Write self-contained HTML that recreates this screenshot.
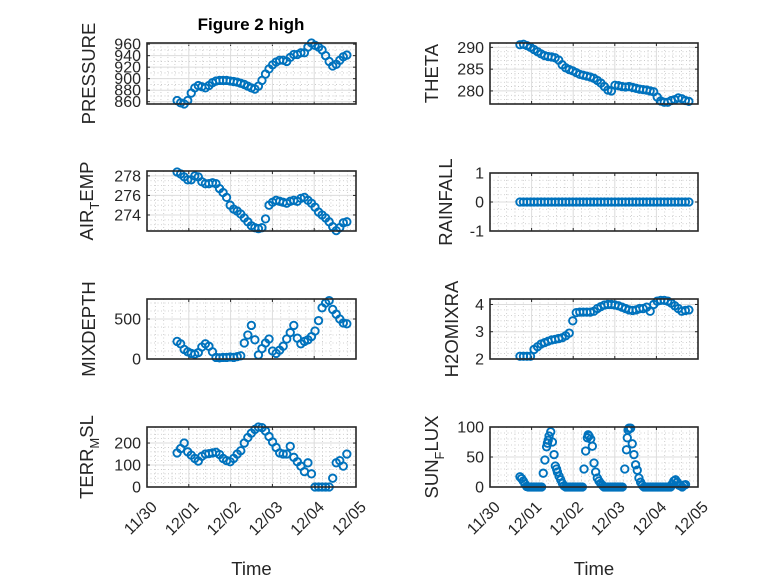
<!DOCTYPE html>
<html><head><meta charset="utf-8"><style>
html,body{margin:0;padding:0;background:#fff;}
svg{display:block;font-family:"Liberation Sans",sans-serif;}
</style></head><body>
<svg id="fig" width="778" height="583" viewBox="0 0 778 583">
<rect width="778" height="583" fill="#fff"/>
<text x="251" y="30" text-anchor="middle" font-size="17" font-weight="bold" fill="#000">Figure 2 high</text>
</svg>
<script>
// ---- shared time base (days since 11/30 00:00) ----
const xTickLabels = ["11/30","12/01","12/02","12/03","12/04","12/05"];
const tStart = 0.72, tStep = 0.0846;

const pressureValues = [862,858,856,862,875,884,888,886,884,888,893,896,897,897,897,896,895,894,892,890,887,884,882,887,897,908,917,924,929,932,932,930,937,942,942,945,945,955,962,958,955,950,940,930,922,925,932,938,941];
const thetaValues = [290.6,290.7,290.4,290.0,289.5,289.0,288.5,288.1,287.9,287.8,287.6,287.1,286.0,285.3,284.9,284.6,284.2,283.8,283.6,283.4,283.2,282.9,282.4,281.8,281.0,280.2,280.0,281.3,281.2,281.0,280.9,281.0,280.8,280.6,280.4,280.3,280.2,280.0,279.8,278.6,277.7,277.4,277.4,277.8,278.0,278.4,278.2,277.8,277.6];
const airTempValues = [278.4,278.2,277.9,277.6,277.6,278.0,277.9,277.4,277.2,277.2,277.3,277.2,276.7,276.3,275.8,275.0,274.6,274.4,274.1,273.7,273.3,272.9,272.7,272.6,272.7,273.6,275.0,275.3,275.5,275.4,275.3,275.2,275.4,275.5,275.4,275.7,275.8,275.5,275.2,274.8,274.3,274.0,273.7,273.3,272.8,272.4,272.7,273.2,273.3];
const rainfallValues = [0,0,0,0,0,0,0,0,0,0,0,0,0,0,0,0,0,0,0,0,0,0,0,0,0,0,0,0,0,0,0,0,0,0,0,0,0,0,0,0,0,0,0,0,0,0,0,0,0];
const mixDepthValues = [220,190,120,90,70,60,80,150,190,160,90,20,15,20,20,25,20,30,40,200,300,420,240,50,130,200,250,100,70,110,160,250,330,420,260,190,220,240,280,350,480,640,700,730,620,560,500,450,440];
const h2oValues = [2.1,2.1,2.1,2.1,2.35,2.45,2.55,2.6,2.65,2.7,2.72,2.75,2.78,2.85,2.95,3.4,3.7,3.72,3.72,3.72,3.72,3.75,3.85,3.92,3.98,4.0,4.0,3.98,3.95,3.9,3.85,3.8,3.78,3.8,3.85,3.85,3.9,3.75,4.0,4.12,4.15,4.15,4.12,4.05,3.95,3.85,3.75,3.78,3.8];
const terrValues = [155,175,200,160,145,130,118,140,150,152,155,158,148,130,120,115,130,150,165,200,225,245,262,273,270,255,230,205,180,155,150,150,185,135,115,95,70,110,60,0,0,0,0,0,40,110,120,95,150];
const sunDays = [0.72,0.76,0.80,0.84,0.88,0.92,0.96,1.00,1.04,1.08,1.12,1.16,1.20,1.24,1.28,1.32,1.36,1.38,1.40,1.42,1.46,1.50,1.54,1.57,1.60,1.62,1.66,1.70,1.74,1.78,1.82,1.86,1.90,1.94,1.98,2.02,2.06,2.10,2.14,2.18,2.22,2.26,2.30,2.34,2.36,2.38,2.42,2.46,2.50,2.54,2.58,2.62,2.66,2.70,2.74,2.78,2.82,2.86,2.90,2.94,2.98,3.02,3.06,3.10,3.14,3.18,3.24,3.28,3.30,3.32,3.34,3.38,3.42,3.46,3.50,3.54,3.58,3.62,3.66,3.70,3.74,3.78,3.82,3.86,3.90,3.94,3.98,4.02,4.06,4.10,4.14,4.18,4.22,4.26,4.30,4.34,4.38,4.42,4.46,4.50,4.54,4.58,4.62,4.66,4.70];
const sunValues = [17,14,10,5,1,0,0,0,0,0,0,0,0,0,23,45,67,73,78,85,92,75,54,35,30,25,18,12,6,2,0,0,0,0,0,0,0,0,0,0,0,30,60,82,87,85,80,68,40,25,15,10,6,3,0,0,0,0,0,0,0,0,0,0,0,0,30,62,82,95,98,98,72,54,37,28,15,8,3,0,0,0,0,0,0,0,0,0,0,0,0,0,0,0,0,0,5,10,12,8,3,2,0,3,4];

const pressureTicks = [860,880,900,920,940,960];
const thetaTicks = [280,285,290];
const airTempTicks = [274,276,278];
const rainfallTicks = [-1,0,1];
const mixDepthTicks = [0,500];
const h2oTicks = [2,3,4];
const terrTicks = [0,100,200];
const sunTicks = [0,50,100];

const NS = "http://www.w3.org/2000/svg";
const svg = document.getElementById("fig");
function mk(tag, attrs, parent){const e=document.createElementNS(NS,tag);for(const k in attrs)e.setAttribute(k,attrs[k]);(parent||svg).appendChild(e);return e;}
function seqDays(n){const a=[];for(let i=0;i<n;i++)a.push(tStart+i*tStep);return a;}

function panel(o){
  const g = mk("g",{});
  
  
  const L=o.x, R=o.x+o.w, T=o.y, B=o.y+o.h;
  const sx = d => L + d/5*o.w;
  const sy = v => B - (v-o.ymin)/(o.ymax-o.ymin)*o.h;
  for(let d=0; d<=5.0001; d+=1/o.minorX){ if(Math.abs(d-Math.round(d))<1e-6) continue;
    const l=mk("line",{x1:sx(d),x2:sx(d),y1:T,y2:B,stroke:"#c4c4c4","stroke-width":0.8,"stroke-dasharray":"1,2.5"},g);
    
    
  }
  for(let v=Math.ceil(o.ymin/o.minorY)*o.minorY; v<=o.ymax+1e-9; v+=o.minorY){
    if(o.ticks.some(t=>Math.abs(t-v)<1e-6)) continue;
    const l=mk("line",{x1:L,x2:R,y1:sy(v),y2:sy(v),stroke:"#c4c4c4","stroke-width":0.8,"stroke-dasharray":"1,2.5"},g);
    
    
  }
  for(let d=0; d<=5; d++){
    const l=mk("line",{x1:sx(d),x2:sx(d),y1:T,y2:B,stroke:"#dcdcdc","stroke-width":1},g);
    
    
    mk("line",{x1:sx(d),x2:sx(d),y1:B,y2:B-3,stroke:"#262626","stroke-width":1},g);
    mk("line",{x1:sx(d),x2:sx(d),y1:T,y2:T+3,stroke:"#262626","stroke-width":1},g);
    if(o.bottom){
      const t=mk("text",{transform:`translate(${sx(d)+11},${B+21}) rotate(-45)`,"text-anchor":"end","font-size":16,fill:"#262626"},g);
      t.textContent=xTickLabels[d];
      
      
    }
  }
  o.ticks.forEach(v=>{
    const l=mk("line",{x1:L,x2:R,y1:sy(v),y2:sy(v),stroke:"#dcdcdc","stroke-width":1},g);
    
    
    mk("line",{x1:L,x2:L+3,y1:sy(v),y2:sy(v),stroke:"#262626","stroke-width":1},g);
    mk("line",{x1:R,x2:R-3,y1:sy(v),y2:sy(v),stroke:"#262626","stroke-width":1},g);
    const t=mk("text",{x:L-6,y:sy(v)+5.5,"text-anchor":"end","font-size":16,fill:"#262626"},g);
    t.textContent=String(v);
    
    
  });
  o.days.forEach((d,i)=>{
    const c=mk("circle",{cx:sx(d),cy:sy(o.vals[i]),r:3.7,fill:"none",stroke:"#0072BD","stroke-width":1.9},g);
    
    
  });
  const b=mk("rect",{x:L,y:T,width:o.w,height:o.h,fill:"none",stroke:"#262626","stroke-width":1.6},g);
  
  
  const cy=(T+B)/2;
  const yl=mk("text",{transform:`translate(${o.lx},${cy}) rotate(-90)`,"text-anchor":"middle","font-size":18.5,fill:"#262626"},g);
  
  
  if(o.sub){
    const a=mk("tspan",{},yl); a.textContent=o.label[0];
    const s=mk("tspan",{dy:6,"font-size":13},yl); s.textContent=o.label[1];
    const c=mk("tspan",{dy:-6},yl); c.textContent=o.label[2];
  } else yl.textContent=o.label;
  if(o.bottom){
    const xl=mk("text",{x:(L+R)/2,y:575,"text-anchor":"middle","font-size":18.5,fill:"#262626"},g);
    xl.textContent="Time";
    
    
  }
}
const LX=147, RX=490, W1=209, W2=208;
panel({name:"pressure",x:LX,y:43,w:W1,h:61,ymin:856,ymax:962,ticks:pressureTicks,minorY:10,minorX:6,days:seqDays(49),vals:pressureValues,label:"PRESSURE",lx:95});
panel({name:"theta",x:RX,y:43,w:W2,h:61,ymin:277,ymax:291,ticks:thetaTicks,minorY:1,minorX:5,days:seqDays(49),vals:thetaValues,label:"THETA",lx:438});
panel({name:"air-temp",x:LX,y:171,w:W1,h:60,ymin:272.36,ymax:278.5,ticks:airTempTicks,minorY:0.5,minorX:5,days:seqDays(49),vals:airTempValues,label:["AIR","T","EMP"],sub:true,lx:93});
panel({name:"rainfall",x:RX,y:173,w:W2,h:58,ymin:-1,ymax:1,ticks:rainfallTicks,minorY:0.25,minorX:5,days:seqDays(49),vals:rainfallValues,label:"RAINFALL",lx:452});
panel({name:"mixdepth",x:LX,y:299,w:W1,h:60,ymin:0,ymax:750,ticks:mixDepthTicks,minorY:100,minorX:5,days:seqDays(49),vals:mixDepthValues,label:"MIXDEPTH",lx:95});
panel({name:"h2omixra",x:RX,y:299,w:W2,h:60,ymin:2,ymax:4.2,ticks:h2oTicks,minorY:0.2,minorX:5,days:seqDays(49),vals:h2oValues,label:"H2OMIXRA",lx:458});
panel({name:"terr-msl",x:LX,y:427,w:W1,h:60,ymin:0,ymax:273,ticks:terrTicks,minorY:20,minorX:5,days:seqDays(49),vals:terrValues,label:["TERR","M","SL"],sub:true,lx:93,bottom:true});
panel({name:"sun-flux",x:RX,y:427,w:W2,h:60,ymin:0,ymax:100,ticks:sunTicks,minorY:10,minorX:5,days:sunDays,vals:sunValues,label:["SUN","F","LUX"],sub:true,lx:438,bottom:true});
</script>
</body></html>
